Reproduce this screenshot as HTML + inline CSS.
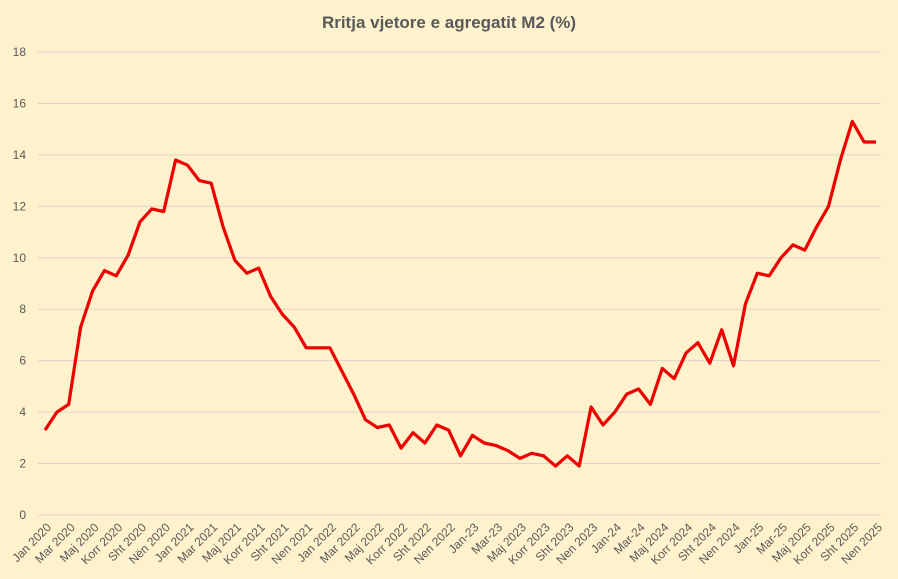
<!DOCTYPE html>
<html><head><meta charset="utf-8"><style>
html,body{margin:0;padding:0;background:#FFF2CC;}
svg{display:block;font-family:"Liberation Sans",sans-serif;}
</style></head><body>
<svg id="s" width="898" height="579" xmlns="http://www.w3.org/2000/svg">
<rect width="898" height="579" fill="#FFF2CC"/>
<text x="449" y="28" text-anchor="middle" font-size="17" font-weight="bold" fill="#595959">Rritja vjetore e agregatit M2 (%)</text>
<g id="grid"></g>
<g id="lab"></g>
<polyline id="ln" fill="none" stroke="#EE0000" stroke-width="3.2" stroke-linejoin="round"/>
</svg>
<script>
var NS="http://www.w3.org/2000/svg";
function Y(v){return 515-v*463/18;}
function X(i){return 45+i*(831/70);}
var g=document.getElementById('grid');
for(var v=0;v<=18;v+=2){
 var l=document.createElementNS(NS,'line');l.setAttribute('x1',38);l.setAttribute('x2',881);l.setAttribute('y1',Y(v));l.setAttribute('y2',Y(v));l.setAttribute('stroke','#DDD6C8');l.setAttribute('stroke-width','1');g.appendChild(l);
 var t=document.createElementNS(NS,'text');t.setAttribute('x',26);t.setAttribute('y',Y(v)+4);t.setAttribute('text-anchor','end');t.setAttribute('font-size','12');t.setAttribute('fill','#595959');t.textContent=v;g.appendChild(t);
}
var labs=["Jan 2020","Mar 2020","Maj 2020","Korr 2020","Sht 2020","Nën 2020","Jan 2021","Mar 2021","Maj 2021","Korr 2021","Sht 2021","Nen 2021","Jan 2022","Mar 2022","Maj 2022","Korr 2022","Sht 2022","Nen 2022","Jan-23","Mar-23","Maj 2023","Korr 2023","Sht 2023","Nen 2023","Jan-24","Mar-24","Maj 2024","Korr 2024","Sht 2024","Nen 2024","Jan-25","Mar-25","Maj 2025","Korr 2025","Sht 2025","Nen 2025"];
var lb=document.getElementById('lab');
labs.forEach(function(s,k){var x=X(2*k)+7,y=528;var t=document.createElementNS(NS,'text');t.setAttribute('x',x);t.setAttribute('y',y);t.setAttribute('text-anchor','end');t.setAttribute('font-size','12');t.setAttribute('fill','#595959');t.setAttribute('transform','rotate(-45 '+x+' '+y+')');t.textContent=s;lb.appendChild(t);});
var d=[3.3,4.0,4.3,7.3,8.7,9.5,9.3,10.1,11.4,11.9,11.8,13.8,13.6,13.0,12.9,11.2,9.9,9.4,9.6,8.5,7.8,7.3,6.5,6.5,6.5,5.6,4.7,3.7,3.4,3.5,2.6,3.2,2.8,3.5,3.3,2.3,3.1,2.8,2.7,2.5,2.2,2.4,2.3,1.9,2.3,1.9,4.2,3.5,4.0,4.7,4.9,4.3,5.7,5.3,6.3,6.7,5.9,7.2,5.8,8.2,9.4,9.3,10.0,10.5,10.3,11.2,12.0,13.8,15.3,14.5,14.5];
document.getElementById('ln').setAttribute('points',d.map(function(v,i){return X(i).toFixed(1)+','+Y(v).toFixed(1);}).join(' '));
</script>
</body></html>
